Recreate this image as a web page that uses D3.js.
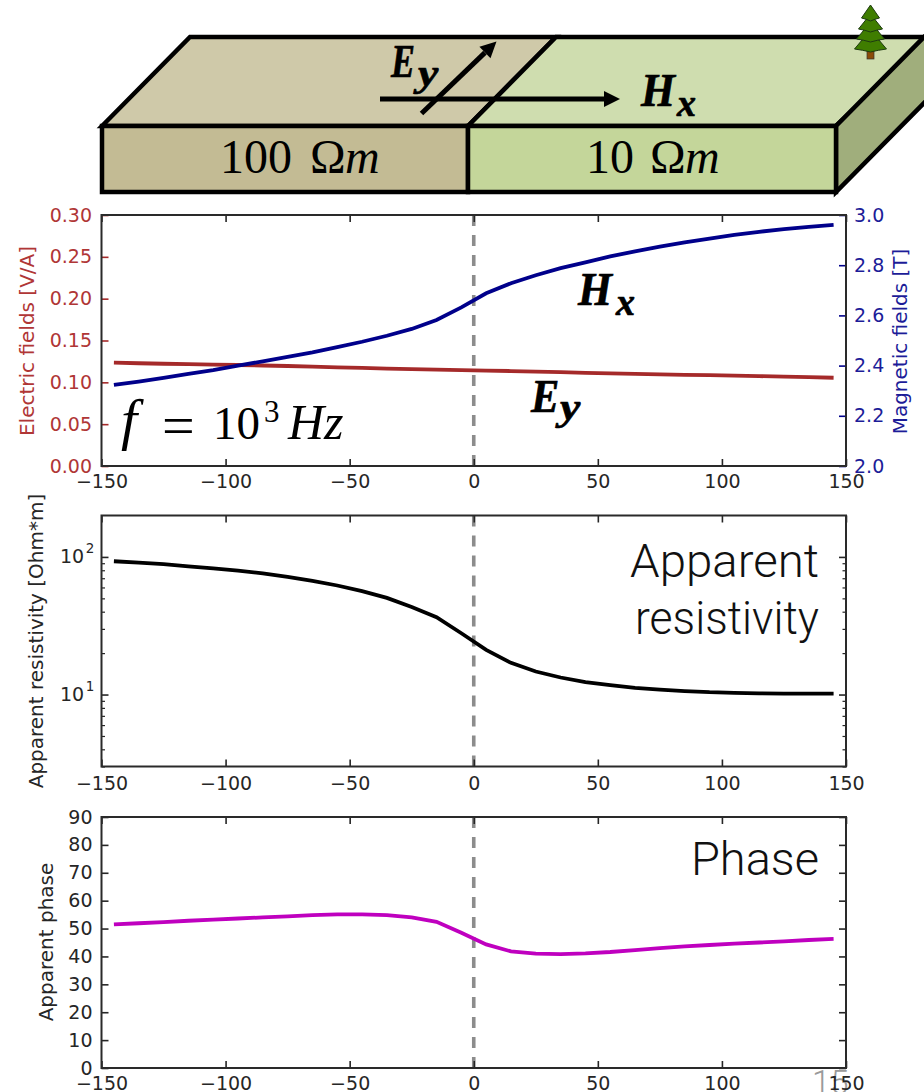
<!DOCTYPE html>
<html>
<head>
<meta charset="utf-8">
<script src="https://cdn.jsdelivr.net/npm/d3@7"></script>
<style>
  html, body { margin: 0; padding: 0; background: #fff; overflow: hidden; }
  svg { display: block; }
  text { font-family: "DejaVu Sans", sans-serif; }
  .mathText { font-family: "Liberation Serif", serif; }
  .slideText { font-family: Roboto, "Liberation Sans", sans-serif; font-weight: 300; }
</style>
</head>
<body>
<svg id="chart" width="924" height="1092"></svg>
<script>
// station positions [m], same for all three panels
const stations = [-145, -135, -125, -115, -105, -95, -85, -75, -65, -55, -45, -35, -25, -15, -5,
  5, 15, 25, 35, 45, 55, 65, 75, 85, 95, 105, 115, 125, 135, 145];

const electricField = [0.1235, 0.1228, 0.1222, 0.1217, 0.1212, 0.1207, 0.1201, 0.1195, 0.1187, 0.1179,
  0.1172, 0.1165, 0.1158, 0.1152, 0.1147, 0.1141, 0.1135, 0.1128, 0.1121, 0.1114,
  0.1108, 0.1102, 0.1096, 0.109, 0.1085, 0.108, 0.1074, 0.1068, 0.1062, 0.1055];
const magneticField = [2.323, 2.336, 2.351, 2.367, 2.382, 2.4, 2.417, 2.435, 2.453, 2.474,
  2.495, 2.519, 2.546, 2.582, 2.632, 2.688, 2.728, 2.76, 2.788, 2.811,
  2.835, 2.855, 2.874, 2.891, 2.906, 2.921, 2.933, 2.944, 2.953, 2.961];
const resistivity = [93, 91, 88.5, 85.5, 82.5, 79.5, 76, 71.5, 67, 62,
  56.5, 50.4, 43.2, 36.5, 27.9, 21.1, 17, 14.7, 13.3, 12.3,
  11.7, 11.2, 10.85, 10.6, 10.4, 10.3, 10.2, 10.17, 10.15, 10.15];
const phase = [51.5, 51.9, 52.3, 52.8, 53.2, 53.6, 54, 54.4, 54.8, 55.1,
  55.1, 54.8, 54, 52.4, 48.5, 44.3, 41.8, 41, 40.8, 41.1,
  41.6, 42.3, 43, 43.6, 44.1, 44.6, 45, 45.4, 45.9, 46.3];

const xTicks = [-150, -100, -50, 0, 50, 100, 150];
const electricTicks = [0, 0.05, 0.1, 0.15, 0.2, 0.25, 0.3];
const magneticTicks = [2, 2.2, 2.4, 2.6, 2.8, 3];
const logMajor = [10, 100];
const logMinor = [3, 4, 5, 6, 7, 8, 9, 20, 30, 40, 50, 60, 70, 80, 90];
const phaseTicks = [0, 10, 20, 30, 40, 50, 60, 70, 80, 90];

const brown = "#a52a2a", brownText = "#b03636";
const navy = "#00008b", navyText = "#1c1c98";
const magenta = "#bf00bf";
const tickFont = 19, titleFont = 20, dark = "#262626";

const svg = d3.select("#chart");
const x = d3.scaleLinear().domain([-150, 150]).range([101.5, 846]);

const y1 = d3.scaleLinear().domain([0, 0.3]).range([466, 215]);
const y1b = d3.scaleLinear().domain([2, 3]).range([466, 215]);
const y2 = d3.scaleLog().domain([3, 200]).range([766.5, 515.5]);
const y3 = d3.scaleLinear().domain([0, 90]).range([1068, 817]);

// ---- block model sketch ----
function poly(pts, fill) {
  svg.append("polygon").attr("points", pts.join(" ")).attr("fill", fill)
    .attr("stroke", "#000").attr("stroke-width", 4.5).attr("stroke-linejoin", "miter");
}
poly([[102, 126], [190, 37], [556, 37], [468, 126]], "#cfc9a9");
poly([[468, 126], [556, 37], [930, 37], [836, 126]], "#cfddaf");
poly([[836, 126], [930, 31], [930, 97], [836, 192]], "#a0ae7c");
poly([[102, 126], [468, 126], [468, 192], [102, 192]], "#c3bb94");
poly([[468, 126], [836, 126], [836, 192], [468, 192]], "#c4d69a");

function arrow(x0, y0, x1, y1_) {
  const a = Math.atan2(y1_ - y0, x1 - x0), len = 16, hw = 8;
  const bx = x1 - len * Math.cos(a), by = y1_ - len * Math.sin(a);
  svg.append("line").attr("x1", x0).attr("y1", y0).attr("x2", bx).attr("y2", by)
    .attr("stroke", "#000").attr("stroke-width", 5);
  svg.append("polygon").attr("fill", "#000").attr("points", [
    [x1, y1_],
    [bx - hw * Math.sin(a), by + hw * Math.cos(a)],
    [bx + hw * Math.sin(a), by - hw * Math.cos(a)]
  ].join(" "));
}
arrow(421.5, 113.5, 496.5, 41.5);
arrow(380, 99, 620, 99);

// tree, bottom tier first
const treeX = 870.5;
[[30, 51, 16], [22, 41, 14], [14, 31, 12], [5, 20, 9]].forEach(t => {
  svg.append("path").attr("class", "tier")
    .attr("d", `M${treeX},${t[0]} L${treeX + t[2]},${t[1] - 2} Q${treeX + t[2] * 0.5},${t[1] - 1} ${treeX},${t[1] + 1} Q${treeX - t[2] * 0.5},${t[1] - 1} ${treeX - t[2]},${t[1] - 2} Z`)
    .attr("fill", "#3f7d00").attr("stroke", "#1d3a10").attr("stroke-width", 1);
});
svg.insert("rect", ".tier").attr("x", treeX - 3.5).attr("y", 49).attr("width", 7).attr("height", 10)
  .attr("fill", "#8a4b08").attr("stroke", "#333").attr("stroke-width", 0.7);

function resLabel(px, value, omegaX, mX) {
  const t = svg.append("text").attr("class", "mathText").attr("y", 172.5)
    .attr("font-size", 48).attr("fill", "#000");
  t.append("tspan").attr("x", px).text(value);
  t.append("tspan").attr("x", omegaX).text("Ω");
  t.append("tspan").attr("x", mX).attr("font-style", "italic").text("m");
}
resLabel(220, "100", 310, 345);
resLabel(586, "10", 650, 685);

// bold italic field symbol with subscript, squeezed to the equation font's proportions
function fieldLabel(main, mainScale, sub, subScale, px, py, subX, subY) {
  [[main, mainScale, px, py, 46], [sub, subScale, subX, subY, 38]].forEach(d => {
    svg.append("text").attr("class", "mathText")
      .attr("transform", `translate(${d[2]},${d[3]}) scale(${d[1]},1)`)
      .attr("font-size", d[4]).attr("font-weight", "bold").attr("font-style", "italic")
      .attr("stroke", "#000").attr("stroke-width", 0.7).text(d[0]);
  });
}
fieldLabel("E", 0.78, "y", 1.2, 391, 77, 418, 86);
fieldLabel("H", 0.95, "x", 1.0, 641, 106, 677, 116);
fieldLabel("H", 0.95, "x", 1.0, 578, 305, 616, 315);
fieldLabel("E", 0.92, "y", 1.2, 531, 412, 560, 420);

// ---- panels ----
function styleAxis(g, tickColor, textColor) {
  g.select(".domain").remove();
  g.selectAll(".tick line").attr("stroke", tickColor).attr("stroke-width", 1.6);
  g.selectAll(".tick text").attr("fill", textColor).attr("font-size", tickFont)
    .attr("font-family", "DejaVu Sans");
  return g;
}

function drawX(yScale, bottomPad) {
  const yb = yScale.range()[0], yt = yScale.range()[1];
  styleAxis(svg.append("g").attr("transform", `translate(0,${yb})`)
    .call(d3.axisBottom(x).tickValues(xTicks).tickSize(-7).tickPadding(bottomPad)), dark, dark);
  styleAxis(svg.append("g").attr("transform", `translate(0,${yt})`)
    .call(d3.axisTop(x).tickValues(xTicks).tickSize(-7).tickFormat("")), dark, dark);
}

function frame(yScale) {
  const yb = yScale.range()[0], yt = yScale.range()[1];
  svg.append("rect").attr("x", x(-150)).attr("y", yt).attr("width", x(150) - x(-150)).attr("height", yb - yt)
    .attr("fill", "none").attr("stroke", "#2a2a2a").attr("stroke-width", 2);
}

function centerLine(yScale) {
  svg.append("line").attr("x1", x(0)).attr("x2", x(0))
    .attr("y1", yScale.range()[1]).attr("y2", yScale.range()[0])
    .attr("stroke", "#8c8c8c").attr("stroke-width", 3.6).attr("stroke-dasharray", "11,9");
}

function curve(values, yScale, color) {
  const line = d3.line().x(d => x(d[0])).y(d => yScale(d[1]));
  svg.append("path").datum(d3.zip(stations, values)).attr("d", line)
    .attr("fill", "none").attr("stroke", color).attr("stroke-width", 3.8);
}

function axisTitle(label, cx, cy, color) {
  svg.append("text").attr("transform", `translate(${cx},${cy}) rotate(-90)`)
    .attr("text-anchor", "middle").attr("font-size", titleFont).attr("fill", color).text(label);
}

// panel 1: fields
centerLine(y1);
curve(electricField, y1, brown);
curve(magneticField, y1b, navy);
drawX(y1, 9);
styleAxis(svg.append("g").attr("transform", `translate(${x(-150)},0)`)
  .call(d3.axisLeft(y1).tickValues(electricTicks).tickSize(-7).tickPadding(9.5).tickFormat(d3.format(".2f"))), brown, brownText);
styleAxis(svg.append("g").attr("transform", `translate(${x(150)},0)`)
  .call(d3.axisRight(y1b).tickValues(magneticTicks).tickSize(-7).tickPadding(8).tickFormat(d3.format(".1f"))), navy, navyText);
frame(y1);
axisTitle("Electric fields [V/A]", 34, 341, brownText);
axisTitle("Magnetic fields [T]", 907, 341.5, navyText);

const freq = svg.append("text").attr("class", "mathText").attr("y", 439)
  .attr("font-size", 47).attr("fill", "#000");
freq.append("tspan").attr("x", 121).attr("font-style", "italic").attr("font-size", 58).text("f");
freq.append("tspan").attr("x", 162).attr("font-size", 58).attr("dy", 6).text("=");
freq.append("tspan").attr("x", 213).attr("dy", -6).text("10");
freq.append("tspan").attr("x", 264).attr("font-size", 31).attr("dy", -17).text("3");
freq.append("tspan").attr("x", 288).attr("font-style", "italic").attr("font-size", 50).attr("dy", 17).text("Hz");

// panel 2: apparent resistivity
centerLine(y2);
curve(resistivity, y2, "#000");
drawX(y2, 10);
[[d3.axisLeft, x(-150)], [d3.axisRight, x(150)]].forEach(side => {
  styleAxis(svg.append("g").attr("transform", `translate(${side[1]},0)`)
    .call(side[0](y2).tickValues(logMajor).tickSize(-7).tickFormat("")), dark, dark);
  styleAxis(svg.append("g").attr("transform", `translate(${side[1]},0)`)
    .call(side[0](y2).tickValues(logMinor).tickSize(-3.5).tickFormat("")), dark, dark)
    .selectAll(".tick line").attr("stroke-width", 1.2);
});
logMajor.forEach(v => {
  const t = svg.append("text").attr("x", 60).attr("y", y2(v) + 6)
    .attr("font-size", tickFont).attr("fill", dark).text("10");
  t.append("tspan").attr("font-size", 13.5).attr("dx", 1.5).attr("dy", -9.5).text(Math.log10(v));
});
frame(y2);
axisTitle("Apparent resistivity [Ohm*m]", 43, 641, dark);
[["Apparent", 576.5, 189], ["resistivity", 633.5, 184]].forEach(d => {
  svg.append("text").attr("class", "slideText").attr("x", 819).attr("y", d[1])
    .attr("text-anchor", "end").attr("font-size", 47).attr("fill", "#111")
    .attr("textLength", d[2]).attr("lengthAdjust", "spacingAndGlyphs").text(d[0]);
});

// panel 3: apparent phase
svg.append("text").attr("class", "slideText").attr("x", 812).attr("y", 1094)
  .attr("font-size", 33).attr("fill", "#9a9a9a").text("15");
centerLine(y3);
curve(phase, y3, magenta);
drawX(y3, 8.5);
styleAxis(svg.append("g").attr("transform", `translate(${x(-150)},0)`)
  .call(d3.axisLeft(y3).tickValues(phaseTicks).tickSize(-7).tickPadding(9)), dark, dark);
styleAxis(svg.append("g").attr("transform", `translate(${x(150)},0)`)
  .call(d3.axisRight(y3).tickValues(phaseTicks).tickSize(-7).tickFormat("")), dark, dark);
frame(y3);
axisTitle("Apparent phase", 53, 942, dark);
svg.append("text").attr("class", "slideText").attr("x", 819).attr("y", 875)
  .attr("text-anchor", "end").attr("font-size", 47).attr("fill", "#111").text("Phase");
</script>
</body>
</html>
